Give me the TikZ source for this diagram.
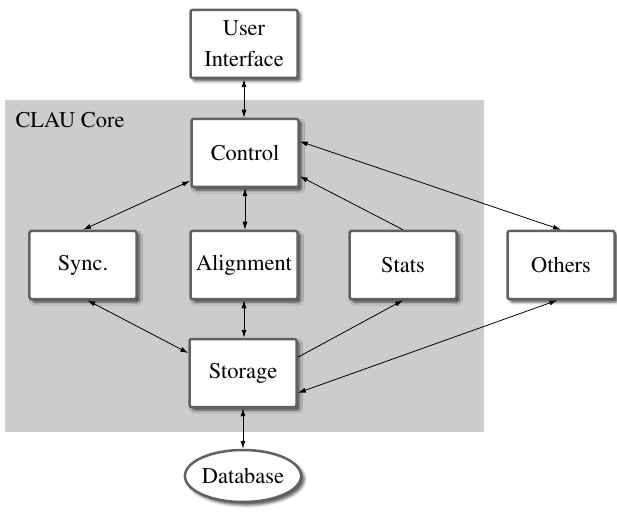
\documentclass[tikz,border=0pt]{standalone}
\usepackage[T1]{fontenc}
\usepackage{mathptmx}
\usetikzlibrary{shapes.geometric,shadows.blur,arrows.meta}
\begin{document}
\begin{tikzpicture}[x=1bp,y=-1bp,
  lbl/.style={font=\fontsize{22.5}{31}\selectfont, text=black},
  shade3/.style={blur shadow={shadow xshift=3bp, shadow yshift=-3bp, shadow blur radius=3bp, shadow opacity=70}},
  box/.style={lbl, draw=black!62, line width=2.5bp, fill=white, rounded corners=2bp,
    minimum width=107bp, minimum height=68bp, inner sep=0pt, align=center, shade3},
  dbox/.style={lbl, ellipse, draw=black!62, line width=2.5bp, fill=white,
    minimum width=107bp, minimum height=52bp, inner sep=0pt, shade3},
  link/.style={draw=black, line width=0.8bp, {Latex[length=8bp,width=5bp]}-{Latex[length=8bp,width=5bp]}},
  onelink/.style={draw=black, line width=0.8bp, -{Latex[length=8bp,width=5bp]}}
]
\useasboundingbox (0,0) rectangle (617,512);
\fill[black!20] (5,100) rectangle (484,432);
\node[lbl, anchor=base west] (core) at (12,128) {CLAU Core};

\node[box] (ui) at (244,44) {User\\Interface};
\node[box] (control) at (245,153) {Control};
\node[box] (sync) at (83,265) {Sync.};
\node[box] (align) at (244,265) {Alignment};
\node[box] (stats) at (403,265) {Stats};
\node[box] (others) at (561,265) {Others};
\node[box] (storage) at (243,373) {Storage};
\node[dbox] (db) at (243,476) {Database};

\draw[link] (ui.south) -- (ui.south |- control.north);
\draw[link] (sync.north) -- (control.207);
\draw[link] (control.south) -- (control.south |- align.north);
\draw[onelink] (stats.north) -- (control.-23);
\draw[link] (control.12) -- (others.north);
\draw[link] (sync.-83) -- (storage.160);
\draw[link] (align.south) -- (align.south |- storage.north);
\draw[onelink] (storage.16) -- (stats.south);
\draw[link] (others.-96) -- (storage.-20);
\draw[link] (storage.south) -- (storage.south |- db.north);
\end{tikzpicture}
\end{document}
